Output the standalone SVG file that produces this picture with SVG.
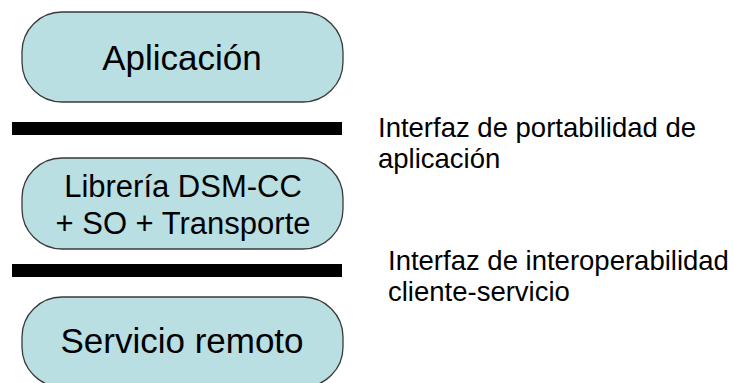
<svg xmlns="http://www.w3.org/2000/svg" width="734" height="383" viewBox="0 0 734 383">
<style>
.box{fill:#B9DFE3;stroke:#3a3a3a;stroke-width:1.3}
.t{font-family:"Liberation Sans",Arial,sans-serif;fill:#000;text-anchor:middle}
.lbl{font-family:"Liberation Sans",Arial,sans-serif;fill:#000;font-size:27.5px}
.bar{fill:#000}
</style>
<rect width="734" height="383" fill="#fff"/>
<g id="aplicacion">
<rect class="box" x="22" y="12" width="321" height="90" rx="40" ry="40"/>
<text class="t" x="182" y="70" font-size="35">Aplicación</text>
</g>
<g id="libreria">
<rect class="box" x="22" y="158" width="321" height="91" rx="40" ry="40"/>
<text class="t" x="183" y="197" font-size="31">Librería DSM-CC</text>
<text class="t" x="183" y="234" font-size="31">+ SO + Transporte</text>
</g>
<g id="servicio">
<rect class="box" x="22" y="297" width="321" height="90" rx="40" ry="40"/>
<text class="t" x="182" y="353" font-size="35">Servicio remoto</text>
</g>
<g id="connectors">
<rect class="bar" x="12" y="122" width="330" height="13"/>
<rect class="bar" x="12" y="264" width="330" height="13"/>
</g>
<g id="labels">
<text class="lbl" x="378" y="137">Interfaz de portabilidad de</text>
<text class="lbl" x="378" y="168">aplicación</text>
<text class="lbl" x="388" y="270">Interfaz de interoperabilidad</text>
<text class="lbl" x="388" y="301">cliente-servicio</text>
</g>
</svg>
